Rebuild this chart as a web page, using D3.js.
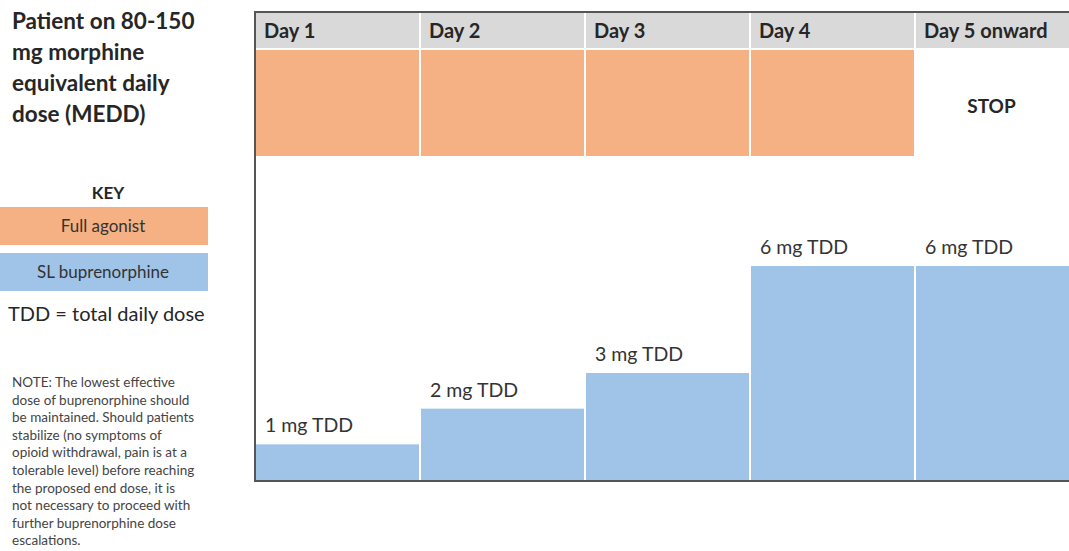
<!DOCTYPE html>
<html>
<head>
<meta charset="utf-8">
<script src="https://cdn.jsdelivr.net/npm/d3@7/dist/d3.min.js"></script>
<style>
  html, body { margin: 0; padding: 0; background: #ffffff; }
  svg { display: block; font-family: Lato, "Open Sans", sans-serif; }
</style>
</head>
<body>
<svg id="chart" width="1069" height="551"></svg>
<script>
// Taper schedule: days, full agonist phase, SL buprenorphine total daily dose (mg)
const days = ["Day 1", "Day 2", "Day 3", "Day 4", "Day 5 onward"];
const fullAgonist = [1, 1, 1, 1, 0];           // 1 = continue full agonist, 0 = stop
const buprenorphineMg = [1, 2, 3, 6, 6];
const doseLabels = ["1 mg TDD", "2 mg TDD", "3 mg TDD", "6 mg TDD", "6 mg TDD"];
const stopLabel = "STOP";

const titleLines = ["Patient on 80-150", "mg morphine", "equivalent daily", "dose (MEDD)"];
const keyItems = [
  { label: "Full agonist", color: "#f5b183" },
  { label: "SL buprenorphine", color: "#a0c4e8" }
];
const noteLines = [
  "NOTE: The lowest effective",
  "dose of buprenorphine should",
  "be maintained. Should patients",
  "stabilize (no symptoms of",
  "opioid withdrawal, pain is at a",
  "tolerable level) before reaching",
  "the proposed end dose, it is",
  "not necessary to proceed with",
  "further buprenorphine dose",
  "escalations."
];

const svg = d3.select("#chart");
const orange = keyItems[0].color, blue = keyItems[1].color;
const textColor = "#262626";

// Frame geometry
const frame = { left: 256, top: 13, bottom: 480 };
const colW = 165;
const x = d3.scaleBand()
  .domain(days)
  .range([frame.left, frame.left + colW * days.length])
  .padding(0);

const headerBottom = 48;
const agonistTop = 50, agonistBottom = 156;

const y = d3.scaleLinear().domain([0, 6]).range([frame.bottom, 266]);

// Header cells
svg.append("g").selectAll("rect")
  .data(days).join("rect")
  .attr("x", d => x(d))
  .attr("y", frame.top)
  .attr("width", x.bandwidth() - 2)
  .attr("height", headerBottom - frame.top)
  .attr("fill", "#d9d9d9");

svg.append("g").selectAll("text")
  .data(days).join("text")
  .attr("x", d => x(d) + 8)
  .attr("y", 38)
  .attr("font-size", 20)
  .attr("font-weight", "bold")
  .attr("fill", textColor)
  .text(d => d);

// Full agonist blocks
svg.append("g").selectAll("rect")
  .data(days.filter((d, i) => fullAgonist[i]))
  .join("rect")
  .attr("x", d => x(d))
  .attr("y", agonistTop)
  .attr("width", x.bandwidth() - 2)
  .attr("height", agonistBottom - agonistTop)
  .attr("fill", orange);

days.forEach((d, i) => {
  if (!fullAgonist[i]) {
    svg.append("text")
      .attr("x", x(d) + x.bandwidth() / 2 - 7)
      .attr("y", (agonistTop + agonistBottom) / 2 + 10)
      .attr("text-anchor", "middle")
      .attr("font-size", 19)
      .attr("font-weight", "bold")
      .attr("fill", textColor)
      .text(stopLabel);
  }
});

// SL buprenorphine dose steps
svg.append("g").selectAll("rect")
  .data(days).join("rect")
  .attr("x", d => x(d))
  .attr("y", (d, i) => y(buprenorphineMg[i]))
  .attr("width", x.bandwidth() - 2)
  .attr("height", (d, i) => frame.bottom - y(buprenorphineMg[i]))
  .attr("fill", blue);

svg.append("g").selectAll("text")
  .data(days).join("text")
  .attr("x", d => x(d) + 9)
  .attr("y", (d, i) => y(buprenorphineMg[i]) - 12)
  .attr("font-size", 19.5)
  .attr("fill", "#333333")
  .text((d, i) => doseLabels[i]);

// Frame border
svg.append("path")
  .attr("d", `M${x.range()[1]},${frame.top - 1}H${frame.left - 1}V${frame.bottom + 1}H${x.range()[1]}`)
  .attr("fill", "none")
  .attr("stroke", "#555555")
  .attr("stroke-width", 2);

// Title
svg.append("g").selectAll("text")
  .data(titleLines).join("text")
  .attr("x", 12)
  .attr("y", (d, i) => 29 + i * 31)
  .attr("font-size", 22.5)
  .attr("font-weight", "bold")
  .attr("fill", textColor)
  .text(d => d);

// Key
svg.append("text")
  .attr("x", 108).attr("y", 199)
  .attr("text-anchor", "middle")
  .attr("font-size", 17)
  .attr("font-weight", "bold")
  .attr("fill", textColor)
  .text("KEY");

const keyG = svg.append("g").selectAll("g")
  .data(keyItems).join("g")
  .attr("transform", (d, i) => `translate(0,${207 + i * 46})`);
keyG.append("rect")
  .attr("width", 208).attr("height", 38)
  .attr("fill", d => d.color);
keyG.append("text")
  .attr("x", 103).attr("y", 25)
  .attr("text-anchor", "middle")
  .attr("font-size", 17)
  .attr("fill", "#333333")
  .text(d => d.label);

svg.append("text")
  .attr("x", 8).attr("y", 321)
  .attr("font-size", 20)
  .attr("fill", textColor)
  .text("TDD = total daily dose");

// Note
svg.append("g").selectAll("text")
  .data(noteLines).join("text")
  .attr("x", 12)
  .attr("y", (d, i) => 387 + i * 17.6)
  .attr("font-size", 13.5)
  .attr("fill", "#444444")
  .text(d => d);
</script>
</body>
</html>
